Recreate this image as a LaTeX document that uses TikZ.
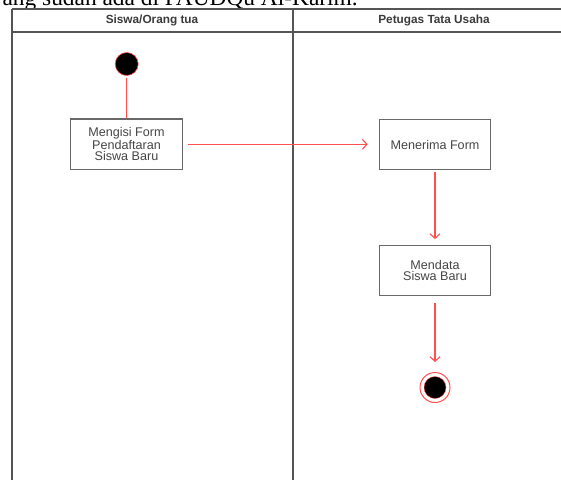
\documentclass[tikz,border=0pt]{standalone}
\usepackage{fontspec}
\setmainfont{Liberation Serif}
\setsansfont{Liberation Sans}
\usetikzlibrary{arrows.meta}
\definecolor{flow}{RGB}{255,80,80}
\definecolor{lane}{RGB}{85,85,85}
\definecolor{boxline}{RGB}{105,105,105}
\definecolor{txt}{RGB}{70,70,70}
\tikzset{
  x=1pt, y=-1pt,
  laneline/.style={draw=lane, line width=1.7pt},
  header/.style={font=\sffamily\bfseries\fontsize{11.8}{13}\selectfont, text=txt!85!black},
  actbox/.style={draw=boxline, line width=1.3pt, fill=white, minimum width=111.5pt, minimum height=50.5pt,
    align=center, font=\sffamily\fontsize{12.6}{11.6}\selectfont, text=txt, inner sep=0pt},
  flowline/.style={draw=flow, line width=1.1pt},
  flowarrow/.style={flowline, -{Straight Barb[length=4.5pt,width=10pt,line width=1.1pt]}},
  startnode/.style={circle, fill=black, draw=flow, line width=0.6pt, minimum size=23pt, inner sep=0pt},
  endouter/.style={circle, fill=white, draw=flow, line width=1pt, minimum size=30pt, inner sep=0pt},
  endinner/.style={circle, fill=black, draw=flow, line width=0.4pt, minimum size=22pt, inner sep=0pt},
}
\begin{document}
\begin{tikzpicture}
\clip (0,0) rectangle (561,480);
\fill[white] (0,0) rectangle (561,480);
% caption fragment cut at the top (as in the reference)
\node[anchor=base east, inner sep=0pt, font=\rmfamily\fontsize{23.4}{26}\selectfont] (cap) at (358,5) {ang sudah ada di PAUDQu Al-Karim.};
% swimlanes
\coordinate (tl) at (11.7,9);
\coordinate (tr) at (561,9);
\coordinate (hl) at (11.7,31.7);
\coordinate (hr) at (561,31.7);
\coordinate (bl) at (11.7,480);
\coordinate (dt) at (293,9);
\coordinate (db) at (293,480);
\draw[laneline] (tl) -- (tr);
\draw[laneline] (hl) -- (hr);
\draw[laneline] (tl) -- (bl);
\draw[laneline] (dt) -- (db);
\node[header] (h1) at (152,20.5) {Siswa/Orang tua};
\node[header] (h2) at (434,20.5) {Petugas Tata Usaha};
% activities
\node[startnode] (start) at (126.7,64) {};
\node[actbox] (b1) at (126.5,144.2) {Mengisi Form\\Pendaftaran\\Siswa Baru};
\node[actbox] (b2) at (435,144.5) {Menerima Form};
\node[actbox] (b3) at (435,270.5) {Mendata\\Siswa Baru};
\node[endouter] (endo) at (435,387.5) {};
\node[endinner] (endi) at (435,387.5) {};
% flows
\draw[flowline, shorten <=2pt] (start) -- (b1);
\draw[flowarrow, shorten <=5.5pt, shorten >=11pt] (b1.east |- 0,144.3) -- (b2.west |- 0,144.3);
\draw[flowarrow, shorten <=2pt, shorten >=5.5pt] (b2) -- (b3);
\draw[flowarrow, shorten <=7pt, shorten >=10pt] (b3) -- (endo);
\end{tikzpicture}
\end{document}
